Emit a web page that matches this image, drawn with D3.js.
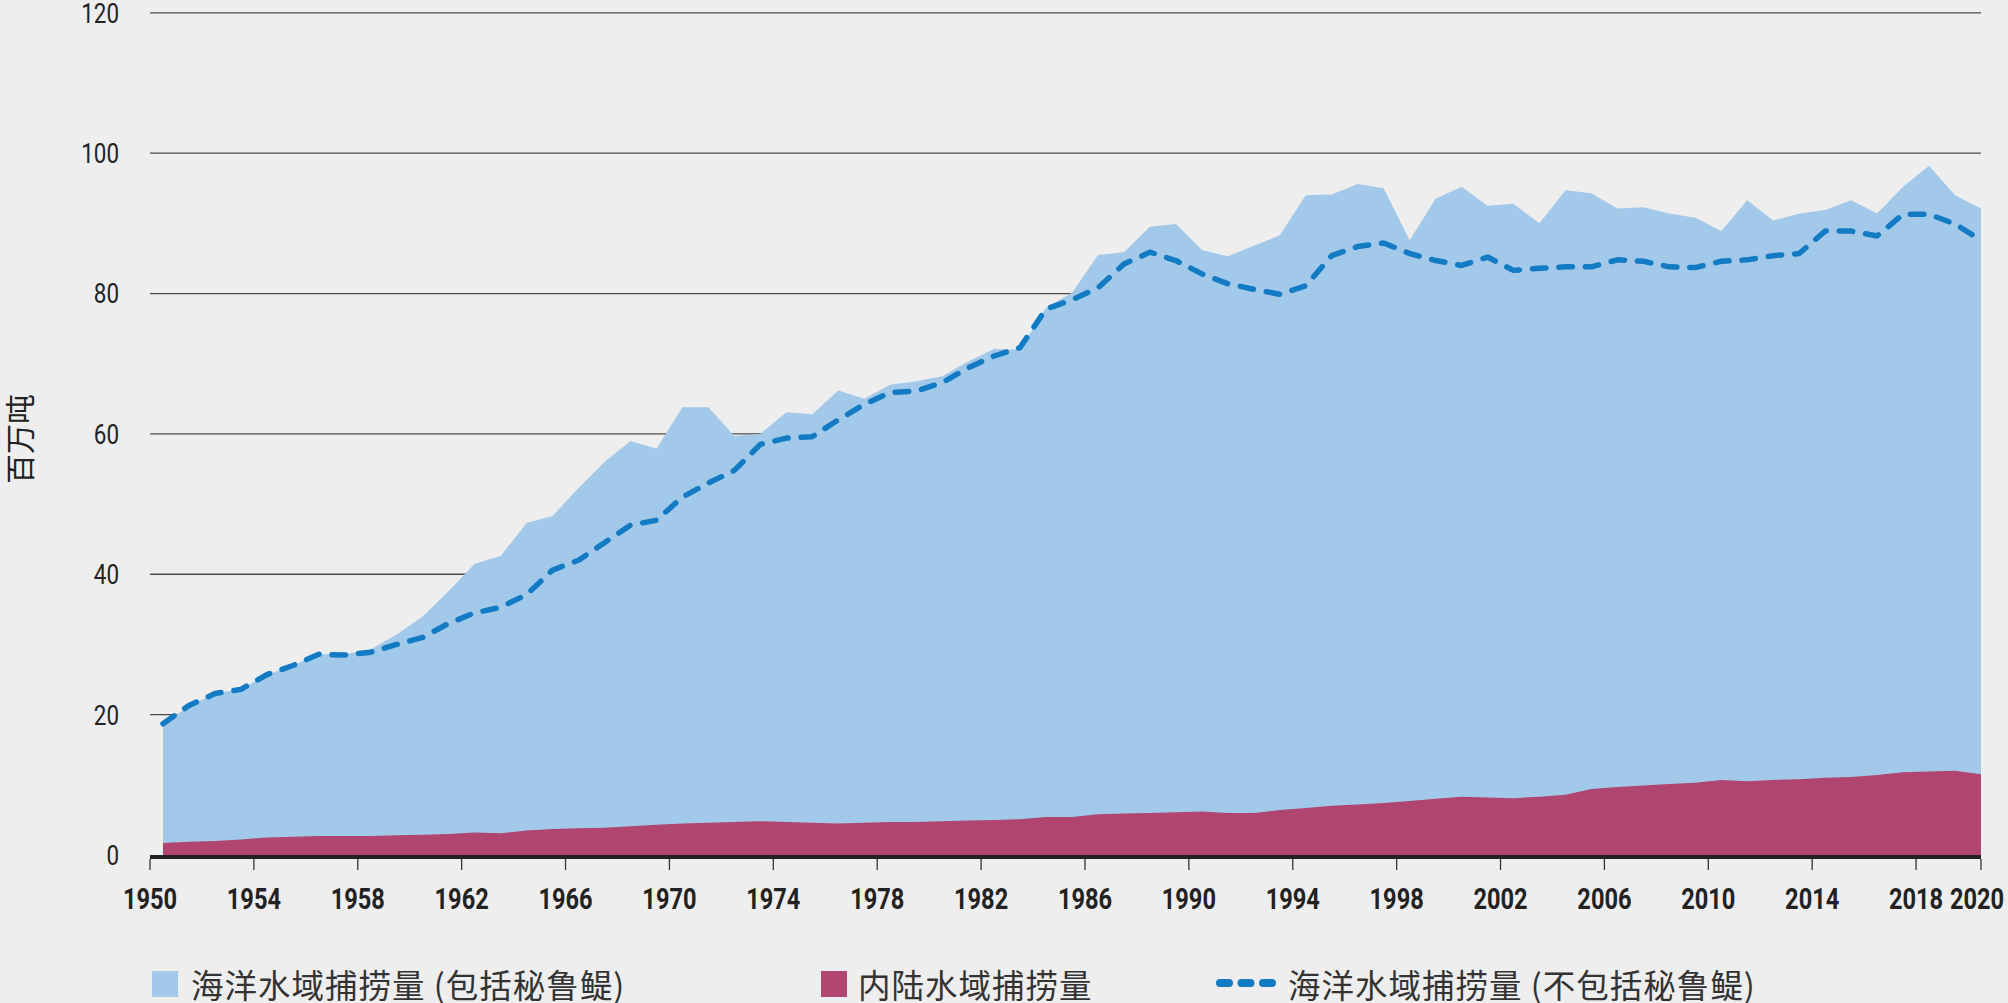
<!DOCTYPE html>
<html>
<head>
<meta charset="utf-8">
<script src="https://cdn.jsdelivr.net/npm/d3@7"></script>
<style>
  html, body { margin: 0; padding: 0; background: #eeeeee; }
  svg { display: block; }
</style>
</head>
<body>
<svg id="chart" width="2008" height="1003"></svg>
<script>
// ---- Data (million tonnes) ----
const years = d3.range(1950, 2021);

const marineInclAnchoveta = [
  18.6, 21.2, 23.0, 23.6, 25.7, 27.0, 28.6, 28.6, 29.3, 31.4,
  34.0, 37.6, 41.5, 42.6, 47.3, 48.3, 52.3, 56.0, 59.0, 57.9,
  63.8, 63.8, 59.7, 60.0, 63.1, 62.8, 66.2, 65.0, 67.0, 67.5,
  68.2, 70.3, 72.1, 72.0, 78.0, 80.1, 85.5, 85.9, 89.5, 89.9,
  86.2, 85.3, 86.8, 88.3, 94.0, 94.1, 95.6, 95.0, 87.6, 93.5,
  95.2, 92.5, 92.8, 90.0, 94.7, 94.3, 92.1, 92.3, 91.4, 90.8,
  88.9, 93.3, 90.4, 91.4, 91.9, 93.3, 91.4, 95.2, 98.2, 94.0,
  92.1
];

const inlandWaters = [
  1.7, 1.9, 2.0, 2.2, 2.5, 2.6, 2.7, 2.7, 2.7, 2.8,
  2.9, 3.0, 3.2, 3.1, 3.5, 3.7, 3.8, 3.9, 4.1, 4.3,
  4.5, 4.6, 4.7, 4.8, 4.7, 4.6, 4.5, 4.6, 4.7, 4.7,
  4.8, 4.9, 5.0, 5.1, 5.4, 5.4, 5.8, 5.9, 6.0, 6.1,
  6.2, 6.0, 6.0, 6.4, 6.7, 7.0, 7.2, 7.4, 7.7, 8.0,
  8.3, 8.2, 8.1, 8.3, 8.6, 9.4, 9.7, 9.9, 10.1, 10.3,
  10.7, 10.5, 10.7, 10.8, 11.0, 11.1, 11.4, 11.8, 11.9, 12.0,
  11.5
];

const marineExclAnchoveta = [
  18.7, 21.3, 23.0, 23.6, 25.7, 27.0, 28.6, 28.5, 28.9, 30.0,
  31.0, 33.0, 34.5, 35.3, 37.1, 40.6, 42.0, 44.5, 47.0, 47.7,
  51.0, 53.0, 54.8, 58.5, 59.4, 59.6, 62.0, 64.2, 65.9, 66.1,
  67.3, 69.4, 71.1, 72.3, 77.8, 79.1, 80.8, 84.2, 85.9, 84.7,
  82.8, 81.4, 80.6, 79.9, 81.1, 85.4, 86.7, 87.2, 85.7, 84.7,
  84.0, 85.2, 83.3, 83.6, 83.8, 83.8, 84.8, 84.6, 83.8, 83.7,
  84.6, 84.8, 85.4, 85.7, 88.9, 88.9, 88.2, 91.3, 91.3, 89.9,
  87.6
];

const yTicks = [0, 20, 40, 60, 80, 100, 120];
const xTicks = [1950, 1954, 1958, 1962, 1966, 1970, 1974, 1978, 1982, 1986,
                1990, 1994, 1998, 2002, 2006, 2010, 2014, 2018, 2020];

const yAxisTitle = "百万吨";
const legendLabels = [
  "海洋水域捕捞量 (包括秘鲁鳀)",
  "内陆水域捕捞量",
  "海洋水域捕捞量 (不包括秘鲁鳀)"
];

// ---- Layout & styles ----
const colors = { marine: "#a3c9ea", inland: "#b04570", line: "#137ac4", grid: "#4a4a4a", text: "#222222" };
const numFont = "Roboto, 'DejaVu Sans', sans-serif";
const cjkFont = "'Noto Sans CJK SC', 'Noto Sans', sans-serif";

const plotLeft = 150, plotRight = 1981, plotTop = 12.8, plotBottom = 855;

const svg = d3.select("#chart");
svg.append("rect").attr("width", 2008).attr("height", 1003).attr("fill", "#eeeeee");

const y = d3.scaleLinear().domain([0, 120]).range([plotBottom, plotTop]);
// Each year occupies one band; data sit at band centres, the last tick closes the axis.
const x = d3.scaleLinear().domain([1950, 2020.5]).range([plotLeft, plotRight]);
const xData = yr => x(yr + 0.5);
const xTickPos = yr => (yr === 2020 ? x(2020.5) : x(yr));

const rows = years.map((yr, i) => ({
  year: yr,
  marine: marineInclAnchoveta[i],
  inland: inlandWaters[i],
  excl: marineExclAnchoveta[i]
}));

// gridlines
svg.append("g")
  .selectAll("line")
  .data(yTicks.filter(d => d > 0))
  .join("line")
  .attr("x1", plotLeft).attr("x2", plotRight)
  .attr("y1", d => y(d)).attr("y2", d => y(d))
  .attr("stroke", colors.grid).attr("stroke-width", 1.3);

// y labels (condensed)
svg.append("g")
  .selectAll("g")
  .data(yTicks)
  .join("g")
  .attr("transform", d => `translate(119, ${y(d)})`)
  .append("text")
  .attr("transform", "scale(0.8,1)")
  .attr("text-anchor", "end")
  .attr("dominant-baseline", "central")
  .attr("font-family", numFont)
  .attr("font-size", 28)
  .attr("fill", colors.text)
  .text(d => d);

// areas
const marineArea = d3.area()
  .x(d => xData(d.year)).y0(y(0)).y1(d => y(d.marine));
const inlandArea = d3.area()
  .x(d => xData(d.year)).y0(y(0)).y1(d => y(d.inland));

svg.append("path").datum(rows).attr("d", marineArea).attr("fill", colors.marine);
svg.append("path").datum(rows).attr("d", inlandArea).attr("fill", colors.inland);

// dashed line
const exclLine = d3.line().x(d => xData(d.year)).y(d => y(d.excl));
svg.append("path").datum(rows)
  .attr("d", exclLine)
  .attr("fill", "none")
  .attr("stroke", colors.line)
  .attr("stroke-width", 5.5)
  .attr("stroke-linecap", "round")
  .attr("stroke-linejoin", "round")
  .attr("stroke-dasharray", "13.5,13");

// x axis baseline
svg.append("line")
  .attr("x1", plotLeft).attr("x2", plotRight)
  .attr("y1", y(0) + 2).attr("y2", y(0) + 2)
  .attr("stroke", "#222").attr("stroke-width", 4);

// x ticks
svg.append("g")
  .selectAll("line")
  .data(xTicks)
  .join("line")
  .attr("x1", d => xTickPos(d)).attr("x2", d => xTickPos(d))
  .attr("y1", y(0) + 4).attr("y2", y(0) + 15)
  .attr("stroke", "#333").attr("stroke-width", 1.3);

// x labels (bold, condensed)
svg.append("g")
  .selectAll("g")
  .data(xTicks)
  .join("g")
  .attr("transform", d => `translate(${d === 2020 ? xTickPos(d) - 4 : xTickPos(d)}, 909)`)
  .append("text")
  .attr("transform", "scale(0.8,1)")
  .attr("text-anchor", "middle")
  .attr("font-family", numFont)
  .attr("font-weight", "bold")
  .attr("font-size", 29.5)
  .attr("fill", colors.text)
  .text(d => d);

// y axis title
svg.append("text")
  .attr("transform", `translate(31, ${(plotTop + plotBottom) / 2 + 5}) rotate(-90)`)
  .attr("text-anchor", "middle")
  .attr("font-family", cjkFont)
  .attr("font-size", 30)
  .attr("fill", colors.text)
  .text(yAxisTitle);

// legend
const legY = 983;
const leg = svg.append("g")
  .attr("font-family", cjkFont)
  .attr("font-size", 32.5)
  .attr("letter-spacing", 1)
  .attr("fill", "#333");

leg.append("rect").attr("x", 152).attr("y", legY - 12).attr("width", 26).attr("height", 26).attr("fill", colors.marine);
leg.append("text").attr("x", 191).attr("y", legY).attr("dominant-baseline", "central").text(legendLabels[0]);

leg.append("rect").attr("x", 821).attr("y", legY - 12).attr("width", 26).attr("height", 26).attr("fill", colors.inland);
leg.append("text").attr("x", 858).attr("y", legY).attr("dominant-baseline", "central").text(legendLabels[1]);

leg.append("line")
  .attr("x1", 1220).attr("x2", 1272).attr("y1", legY).attr("y2", legY)
  .attr("stroke", colors.line).attr("stroke-width", 8)
  .attr("stroke-linecap", "round").attr("stroke-dasharray", "9,12.5");
leg.append("text").attr("x", 1288).attr("y", legY).attr("dominant-baseline", "central").text(legendLabels[2]);
</script>
</body>
</html>
